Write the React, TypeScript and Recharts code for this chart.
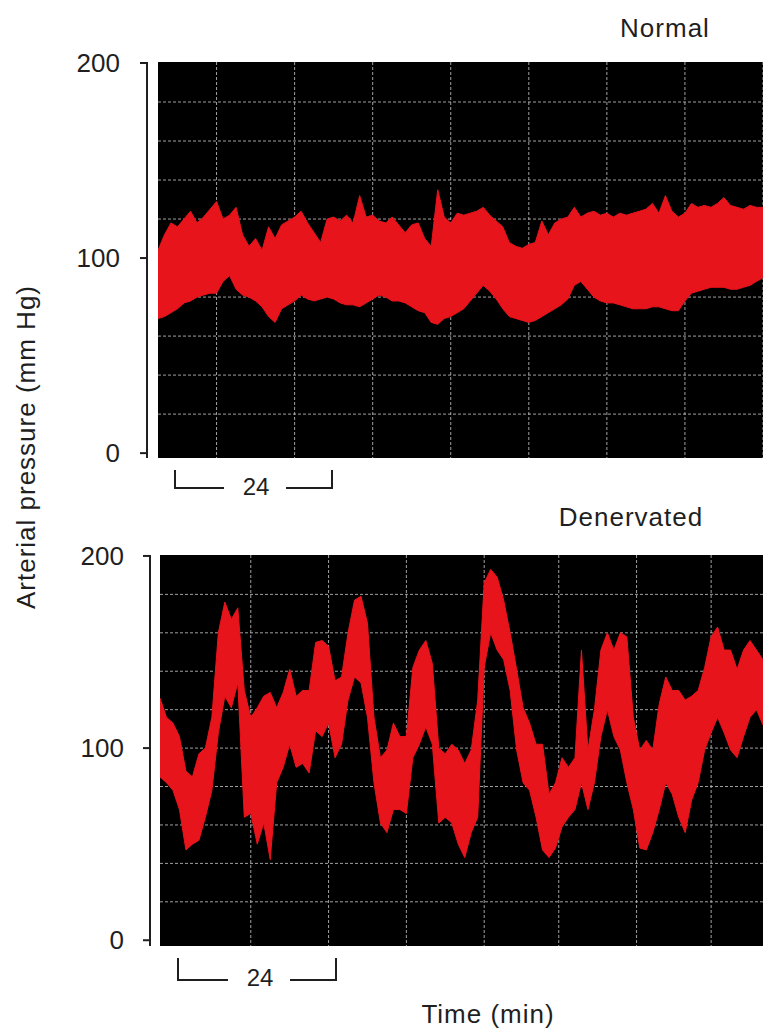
import { ComposedChart, Area, XAxis, YAxis, CartesianGrid } from 'recharts';

// one sample per minute of recording (mm Hg)
const STEP_MIN = 1;

const normalHigh = [
  104, 112, 118, 116, 120, 124, 118, 121, 125, 129, 120, 122, 126, 112, 106, 110,
  104, 116, 110, 117, 119, 121, 124, 118, 113, 108, 120, 121, 119, 122, 118, 132,
  121, 122, 119, 118, 121, 117, 113, 117, 118, 110, 106, 135, 121, 118, 123, 122,
  123, 124, 126, 122, 119, 116, 108, 106, 105, 107, 108, 119, 112, 118, 120, 121,
  126, 121, 123, 124, 122, 123, 121, 123, 122, 123, 124, 125, 128, 123, 132, 124,
  121, 123, 128, 126, 127, 126, 128, 131, 127, 126, 125, 127, 126, 126,
];
const normalLow = [
  69, 70, 72, 74, 77, 78, 80, 81, 82, 82, 88, 91, 84, 81, 80, 78,
  75, 70, 67, 74, 76, 78, 81, 79, 78, 79, 80, 79, 77, 76, 76, 75,
  77, 79, 81, 80, 78, 78, 77, 75, 73, 72, 67, 66, 69, 70, 72, 74,
  78, 82, 86, 83, 79, 74, 70, 69, 68, 67, 68, 70, 72, 74, 76, 79,
  86, 88, 84, 80, 78, 77, 77, 76, 75, 74, 74, 74, 75, 75, 74, 73,
  73, 78, 82, 83, 84, 85, 85, 85, 84, 84, 85, 86, 88, 90,
];

const denervHigh = [
  126, 116, 113, 106, 88, 85, 97, 100, 116, 160, 176, 167, 173, 130, 116, 121,
  127, 129, 121, 129, 141, 127, 130, 130, 155, 156, 153, 135, 137, 160, 177, 179,
  165, 116, 95, 99, 113, 106, 106, 142, 151, 156, 144, 100, 97, 102, 99, 92,
  99, 125, 186, 193, 189, 177, 160, 141, 121, 113, 102, 102, 76, 82, 95, 90,
  95, 151, 99, 120, 151, 160, 151, 160, 158, 116, 99, 104, 99, 123, 137, 130,
  130, 125, 127, 130, 142, 158, 163, 151, 151, 141, 151, 156, 151, 146,
];
const denervLow = [
  85, 82, 78, 68, 47, 50, 52, 64, 78, 108, 127, 121, 134, 64, 66, 50,
  61, 42, 82, 90, 102, 90, 92, 87, 109, 106, 113, 95, 102, 125, 137, 134,
  116, 82, 61, 56, 68, 68, 66, 95, 102, 111, 102, 61, 64, 61, 50, 43,
  56, 64, 142, 160, 151, 146, 130, 99, 82, 78, 64, 47, 43, 48, 59, 64,
  68, 82, 68, 82, 106, 120, 106, 99, 82, 68, 48, 47, 56, 68, 82, 76,
  64, 56, 73, 82, 99, 108, 116, 108, 99, 95, 106, 116, 120, 112,
];

const pressureTicks = [0, 100, 200];
const gridPressure = [20, 40, 60, 80, 100, 120, 140, 160, 180];
const normalGridMin = [9, 21, 33, 45, 57, 69, 81, 93];
const denervGridMin = [14, 26, 38, 50, 61.5, 73.5, 85];

const RED = '#e8141c';
const INK = '#1f1f1f';
const FONT = '"Liberation Sans", Arial, Helvetica, sans-serif';

function toRows(low: number[], high: number[]) {
  return high.map((h, i) => ({ t: i * STEP_MIN, range: [low[i], h] }));
}

interface PanelProps {
  rows: { t: number; range: number[] }[];
  gridMin: number[];
  domain: [number, number];
  top: number;
  height: number;
  marginTop: number;
  marginBottom: number;
  plotLeft: number;
  gap: number;
  labelRight: number;
}

function Panel({ rows, gridMin, domain, top, height, marginTop, marginBottom, plotLeft, gap, labelRight }: PanelProps) {
  const shift = `translate(${-gap} 0)`;
  return (
    <div style={{ position: 'absolute', left: 0, top }}>
      <ComposedChart
        width={763}
        height={height}
        data={rows}
        margin={{ top: marginTop, right: 0, bottom: marginBottom, left: 0 }}
      >
        <CartesianGrid
          fill="#000"
          fillOpacity={1}
          stroke="#bdbdbd"
          strokeOpacity={0.85}
          strokeDasharray="3 2"
          horizontalValues={gridPressure}
          verticalValues={gridMin}
        />
        <XAxis type="number" dataKey="t" domain={[0, 93]} hide allowDataOverflow />
        <YAxis
          type="number"
          domain={domain}
          ticks={pressureTicks}
          interval={0}
          width={plotLeft}
          tickSize={7}
          tickMargin={plotLeft - 7 - labelRight}
          axisLine={{ stroke: INK, strokeWidth: 2, transform: shift }}
          tickLine={{ stroke: INK, strokeWidth: 2, transform: shift }}
          tick={{ fill: INK, fontSize: 26, fontFamily: FONT }}
          allowDataOverflow
        />
        <Area
          type="linear"
          dataKey="range"
          stroke={RED}
          strokeWidth={1}
          fill={RED}
          fillOpacity={1}
          dot={false}
          activeDot={false}
          isAnimationActive={false}
        />
      </ComposedChart>
    </div>
  );
}

function ScaleBar({ x1, x2, y, rise, textX, textY }: { x1: number; x2: number; y: number; rise: number; textX: number; textY: number }) {
  return (
    <g stroke={INK} strokeWidth={2} fill="none">
      <polyline points={`${x1},${y - rise} ${x1},${y} ${textX - 32},${y}`} />
      <polyline points={`${textX + 30},${y} ${x2},${y} ${x2},${y - rise}`} />
      <text x={textX} y={textY} stroke="none" fill={INK} fontSize={24} textAnchor="middle" fontFamily={FONT}>
        24
      </text>
    </g>
  );
}

export default function App() {
  const txt = { fill: INK, fontSize: 26, fontFamily: FONT, letterSpacing: 1 };
  return (
    <div style={{ position: 'absolute', left: 0, top: 0, width: 763, height: 1035, overflow: 'hidden', background: '#fff' }}>
      <Panel
        rows={toRows(normalLow, normalHigh)}
        gridMin={normalGridMin}
        domain={[-2.5, 200.5]}
        top={0}
        height={480}
        marginTop={62}
        marginBottom={22}
        plotLeft={158}
        gap={11}
        labelRight={120}
      />
      <Panel
        rows={toRows(denervLow, denervHigh)}
        gridMin={denervGridMin}
        domain={[-3, 200.5]}
        top={500}
        height={470}
        marginTop={55}
        marginBottom={24}
        plotLeft={160}
        gap={10}
        labelRight={124}
      />
      <svg width={763} height={1035} style={{ position: 'absolute', left: 0, top: 0, pointerEvents: 'none' }}>
        <text x={665} y={37} textAnchor="middle" {...txt}>Normal</text>
        <text x={631} y={526} textAnchor="middle" {...txt}>Denervated</text>
        <text x={488} y={1023} textAnchor="middle" {...txt}>Time (min)</text>
        <text transform="translate(35 447) rotate(-90)" textAnchor="middle" {...txt}>
          Arterial pressure (mm Hg)
        </text>
        <ScaleBar x1={175} x2={332} y={488} rise={18} textX={256} textY={495} />
        <ScaleBar x1={178} x2={336} y={980} rise={22} textX={260} textY={986} />
      </svg>
    </div>
  );
}
